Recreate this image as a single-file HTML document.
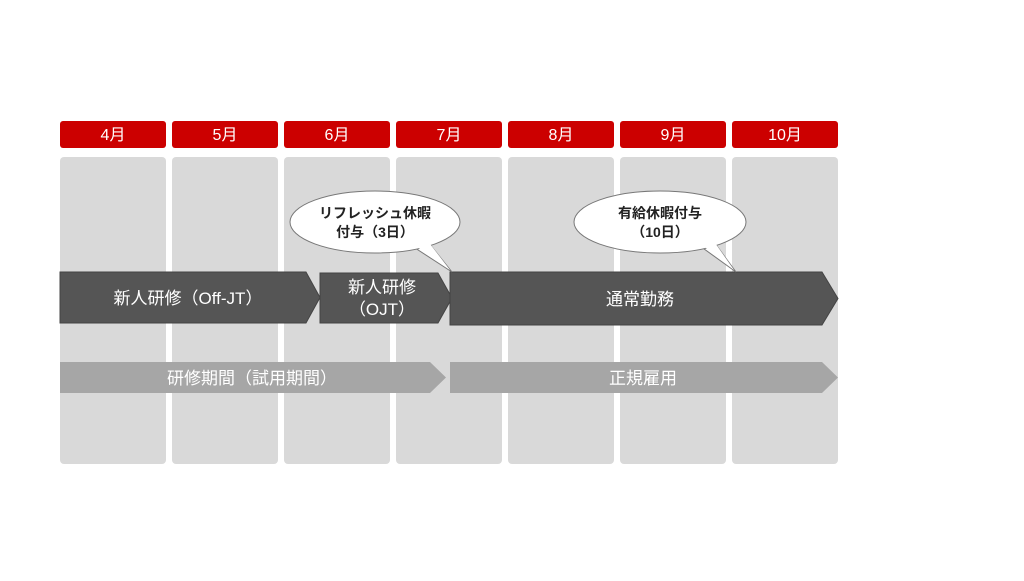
<!DOCTYPE html>
<html><head><meta charset="utf-8"><style>
body{margin:0;background:#fff;}
svg text{font-family:"Liberation Sans","Noto Sans CJK JP",sans-serif;}
</style></head><body>
<svg width="1024" height="576" viewBox="0 0 1024 576" xmlns="http://www.w3.org/2000/svg">
<g fill="#d9d9d9">
<rect x="60" y="157" width="106" height="307" rx="4"/>
<rect x="172" y="157" width="106" height="307" rx="4"/>
<rect x="284" y="157" width="106" height="307" rx="4"/>
<rect x="396" y="157" width="106" height="307" rx="4"/>
<rect x="508" y="157" width="106" height="307" rx="4"/>
<rect x="620" y="157" width="106" height="307" rx="4"/>
<rect x="732" y="157" width="106" height="307" rx="4"/>
</g>
<g fill="#cc0000">
<rect x="60" y="121" width="106" height="27" rx="3"/>
<rect x="172" y="121" width="106" height="27" rx="3"/>
<rect x="284" y="121" width="106" height="27" rx="3"/>
<rect x="396" y="121" width="106" height="27" rx="3"/>
<rect x="508" y="121" width="106" height="27" rx="3"/>
<rect x="620" y="121" width="106" height="27" rx="3"/>
<rect x="732" y="121" width="106" height="27" rx="3"/>
</g>
<g fill="#fff" font-size="16" text-anchor="middle">
<text x="113" y="140">4月</text><text x="225" y="140">5月</text><text x="337" y="140">6月</text>
<text x="449" y="140">7月</text><text x="561" y="140">8月</text><text x="673" y="140">9月</text><text x="785" y="140">10月</text>
</g>
<g fill="#a6a6a6">
<polygon points="60,362 430,362 446,377.5 430,393 60,393"/>
<polygon points="450,362 822,362 838,377.5 822,393 450,393"/>
</g>
<g fill="#555" stroke="#444" stroke-width="1">
<polygon points="60,272 306,272 320,297.5 306,323 60,323"/>
<polygon points="320,273 438,273 452,298 438,323 320,323"/>
<polygon points="450,272 822,272 838,298.5 822,325 450,325"/>
</g>
<g fill="#fff" text-anchor="middle" font-size="17">
<text x="188" y="304">新人研修（Off-JT）</text>
<text x="382" y="293">新人研修</text>
<text x="382" y="315">（OJT）</text>
<text x="640" y="305">通常勤務</text>
<text x="252" y="384">研修期間（試用期間）</text>
<text x="643" y="384">正規雇用</text>
</g>
<g fill="#fff" stroke="#777" stroke-width="1">
<path d="M412,246 L452,272 L428,242 Z"/>
<ellipse cx="375" cy="222" rx="85" ry="31"/>
<path d="M700,246 L736,272 L714,242 Z"/>
<ellipse cx="660" cy="222" rx="86" ry="31"/>
</g>
<g fill="#fff"><path d="M413,244 L450,270 L427,240 Z"/><path d="M701,244 L734,270 L713,240 Z"/></g>
<g fill="#222" text-anchor="middle" font-size="14" font-weight="bold">
<text x="375" y="218">リフレッシュ休暇</text>
<text x="375" y="237">付与（3日）</text>
<text x="660" y="218">有給休暇付与</text>
<text x="660" y="237">（10日）</text>
</g>
</svg>
</body></html>
